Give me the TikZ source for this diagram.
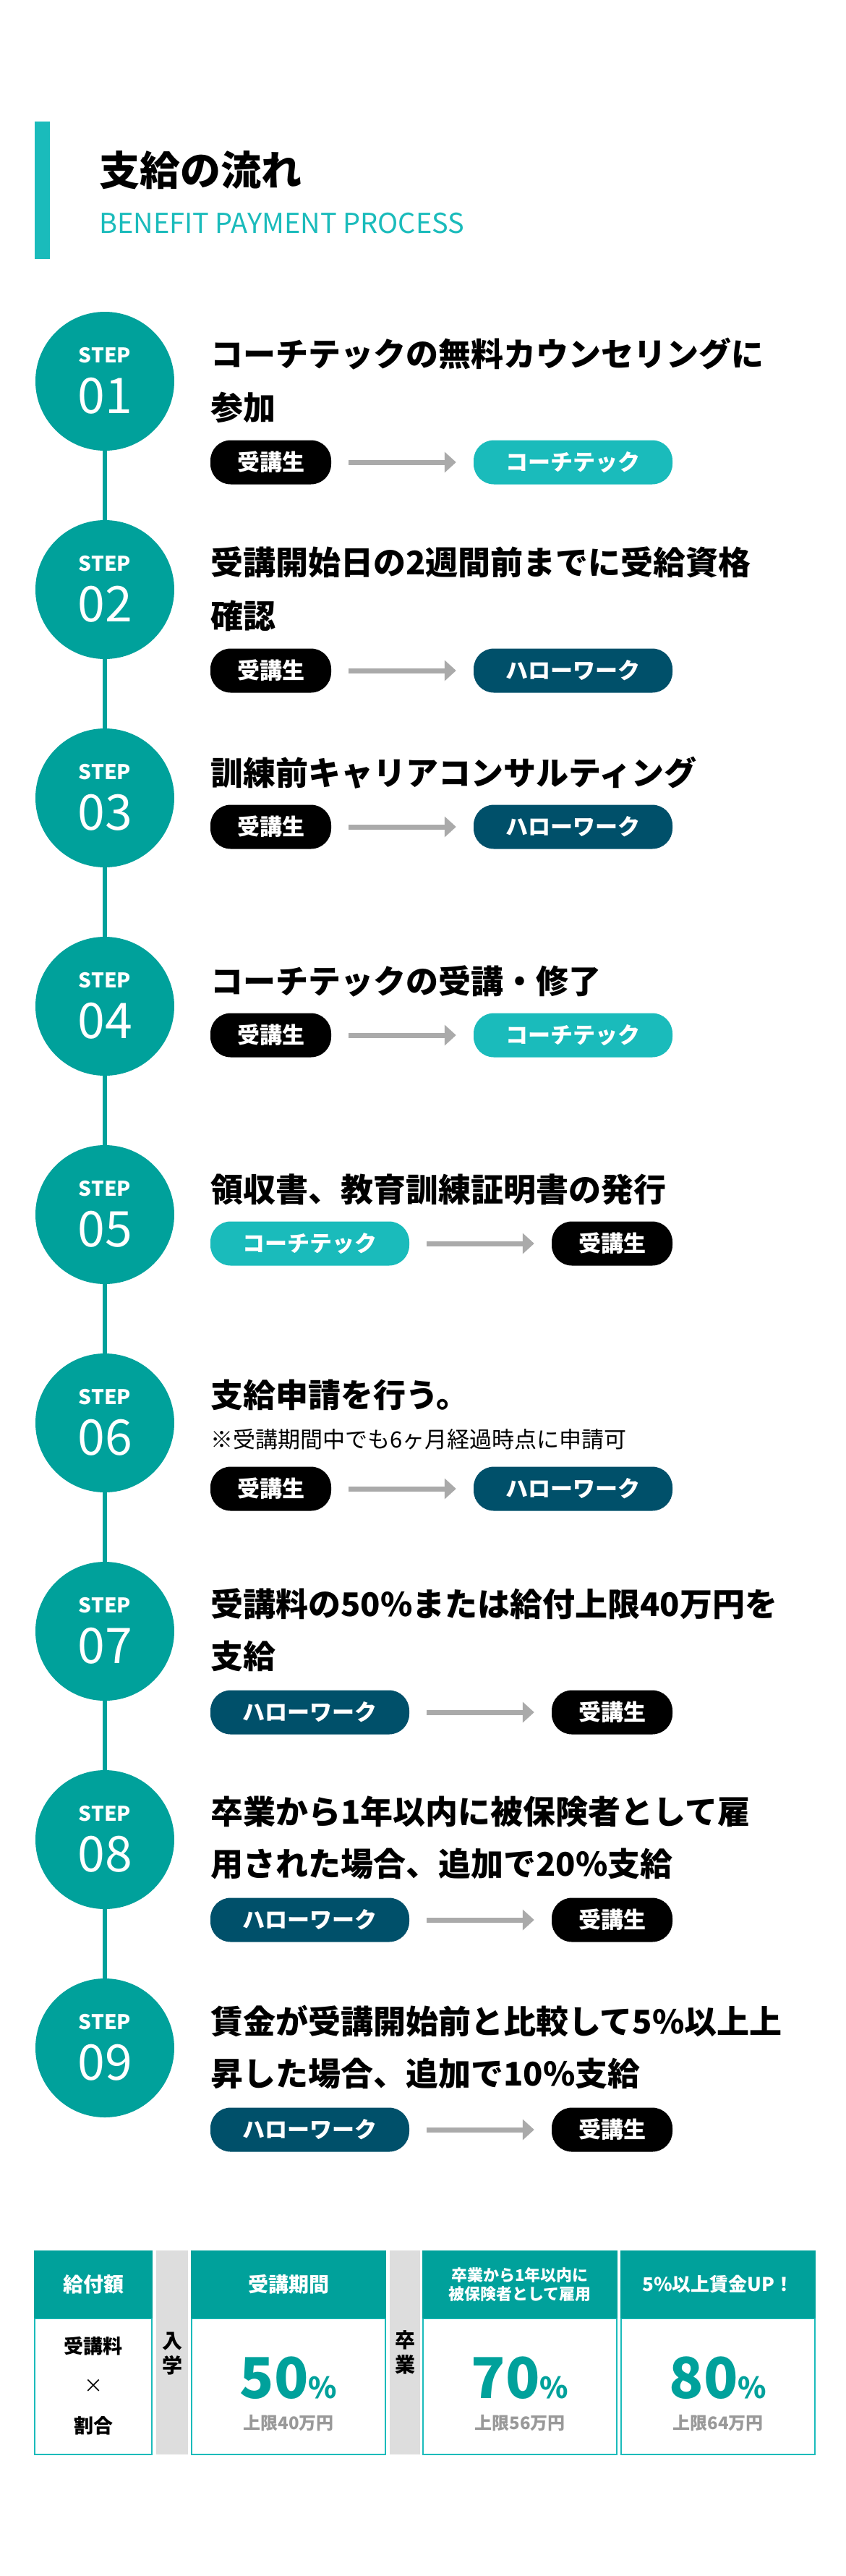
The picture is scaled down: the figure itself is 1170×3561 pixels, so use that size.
\documentclass[tikz,border=0pt]{standalone}
\usepackage{fontspec}
\setmainfont{Noto Sans CJK JP}
\definecolor{teal1}{HTML}{00A19B}
\definecolor{teal2}{HTML}{1ABBBB}
\definecolor{navy}{HTML}{00506A}
\definecolor{arrg}{HTML}{AAAAAA}
\definecolor{lgray}{HTML}{DDDDDD}
\newcommand{\fs}[1]{\fontsize{#1}{#1}\selectfont}
\tikzset{
 circ/.style={circle,fill=teal1,minimum size=192pt,inner sep=0},
 ttl/.style={anchor=west,font=\fs{45}\bfseries,inner sep=0},
 pill/.style={rounded corners=28pt,minimum height=61pt,inner sep=0,text=white,font=\fs{31}\bfseries},
 pa/.style={pill,fill=black,minimum width=167pt},
 pb/.style={pill,fill=teal2,minimum width=275pt},
 pc/.style={pill,fill=navy,minimum width=275pt},
 arr/.style={draw=arrg,line width=7pt,-{Triangle[length=16pt,width=28pt]}},
 hd/.style={fill=teal1,text=white,inner sep=0},
 bx/.style={draw=teal2,line width=1.2pt,fill=white},
}
\usetikzlibrary{arrows.meta}
\begin{document}
\begin{tikzpicture}[x=1pt,y=-1pt]
\useasboundingbox[fill=white] (0,0) rectangle (1170,3561);
% header
\fill[teal2] (48,168) rectangle (69,358);
\node[anchor=west,inner sep=0,font=\fs{56}\bfseries] (title) at (137,235) {支給の流れ};
\node[anchor=west,inner sep=0,font=\fs{38},text=teal2] (sub) at (137,309) {BENEFIT PAYMENT PROCESS};
% circles
\foreach \i/\n in {1/01,2/02,3/03,4/04,5/05,6/06,7/07,8/08,9/09}{
  \pgfmathsetmacro\cy{527+288*(\i-1)}
  \node[circ] (c\i) at (145,\cy) {};
  \node[text=white,font=\fs{28}\bfseries,inner sep=0] at (145,\cy-36) {STEP};
  \node[text=white,font=\fs{68},inner sep=0] at (145,\cy+20) {\n};
}
\foreach \a/\b in {1/2,2/3,3/4,4/5,5/6,6/7,7/8,8/9}{
  \draw[teal1,line width=6pt] (c\a.south) -- (c\b.north);
}
% step texts
% 1
\node[ttl] (t1) at (291,489) {コーチテックの無料カウンセリングに};
\node[ttl] (t1b) at (291,563) {参加};
\node[pa] (a1) at (374.5,639) {受講生};
\node[pb] (b1) at (792.5,639) {コーチテック};
% 2
\node[ttl] (t2) at (291,777) {受講開始日の2週間前までに受給資格};
\node[ttl] (t2b) at (291,851) {確認};
\node[pa] (a2) at (374.5,927) {受講生};
\node[pc] (b2) at (792.5,927) {ハローワーク};
% 3
\node[ttl] (t3) at (291,1068) {訓練前キャリアコンサルティング};
\node[pa] (a3) at (374.5,1143) {受講生};
\node[pc] (b3) at (792.5,1143) {ハローワーク};
% 4
\node[ttl] (t4) at (291,1356) {コーチテックの受講・修了};
\node[pa] (a4) at (374.5,1431) {受講生};
\node[pb] (b4) at (792.5,1431) {コーチテック};
% 5
\node[ttl] (t5) at (291,1644) {領収書、教育訓練証明書の発行};
\node[pb] (a5) at (428.5,1719) {コーチテック};
\node[pa] (b5) at (846.5,1719) {受講生};
% 6
\node[ttl] (t6) at (291,1928) {支給申請を行う。};
\node[anchor=west,inner sep=0,font=\fs{31}] (n6) at (291,1990) {※受講期間中でも6ヶ月経過時点に申請可};
\node[pa] (a6) at (374.5,2058) {受講生};
\node[pc] (b6) at (792.5,2058) {ハローワーク};
% 7
\node[ttl] (t7) at (291,2217) {受講料の50\%または給付上限40万円を};
\node[ttl] (t7b) at (291,2289) {支給};
\node[pc] (a7) at (428.5,2367) {ハローワーク};
\node[pa] (b7) at (846.5,2367) {受講生};
% 8
\node[ttl] (t8) at (291,2504) {卒業から1年以内に被保険者として雇};
\node[ttl] (t8b) at (291,2576) {用された場合、追加で20\%支給};
\node[pc] (a8) at (428.5,2654) {ハローワーク};
\node[pa] (b8) at (846.5,2654) {受講生};
% 9
\node[ttl] (t9) at (291,2794) {賃金が受講開始前と比較して5\%以上上};
\node[ttl] (t9b) at (291,2866) {昇した場合、追加で10\%支給};
\node[pc] (a9) at (428.5,2944) {ハローワーク};
\node[pa] (b9) at (846.5,2944) {受講生};
\foreach \i in {1,...,9}{
  \draw[arr] ([xshift=24pt]a\i.east) -- ([xshift=-24pt]b\i.west);
}
% table
\fill[lgray] (216,3111) rectangle (260,3393);
\fill[lgray] (539,3111) rectangle (581,3393);
\foreach \l/\r in {48/210,265/533,585/853,859/1127}{
  \draw[bx] (\l,3205) rectangle (\r,3393);
  \fill[teal1] (\l-0.6,3111) rectangle (\r+0.6,3205);
}
\node[text=white,font=\fs{28}\bfseries] (h1) at (129,3158) {給付額};
\node[text=white,font=\fs{28}\bfseries] (h2) at (399,3158) {受講期間};
\node[text=white,font=\fs{22}\bfseries,align=center] (h3) at (719,3158) {卒業から1年以内に\\[4pt]被保険者として雇用};
\node[text=white,font=\fs{26}\bfseries] (h4) at (993,3158) {5\%以上賃金UP！};
\node[font=\fs{27}\bfseries] (r1) at (129,3243) {受講料};
\node[font=\fs{26}] (r2) at (129,3298) {×};
\node[font=\fs{27}\bfseries] (r3) at (129,3353) {割合};
\node[font=\fs{28}\bfseries,align=center] (v1) at (238,3254) {入\\[6pt]学};
\node[font=\fs{28}\bfseries,align=center] (v2) at (560,3252) {卒\\[6pt]業};
\foreach \x/\p/\c in {399/50/40,719/70/56,993/80/64}{
  \node[text=teal1,font=\fs{78}\bfseries,inner sep=0] at (\x,3287) {\p{\fs{40}\%}};
  \node[text=arrg!90!black,font=\fs{24}\bfseries] at (\x,3349) {上限\c 万円};
}
\end{tikzpicture}
\end{document}
